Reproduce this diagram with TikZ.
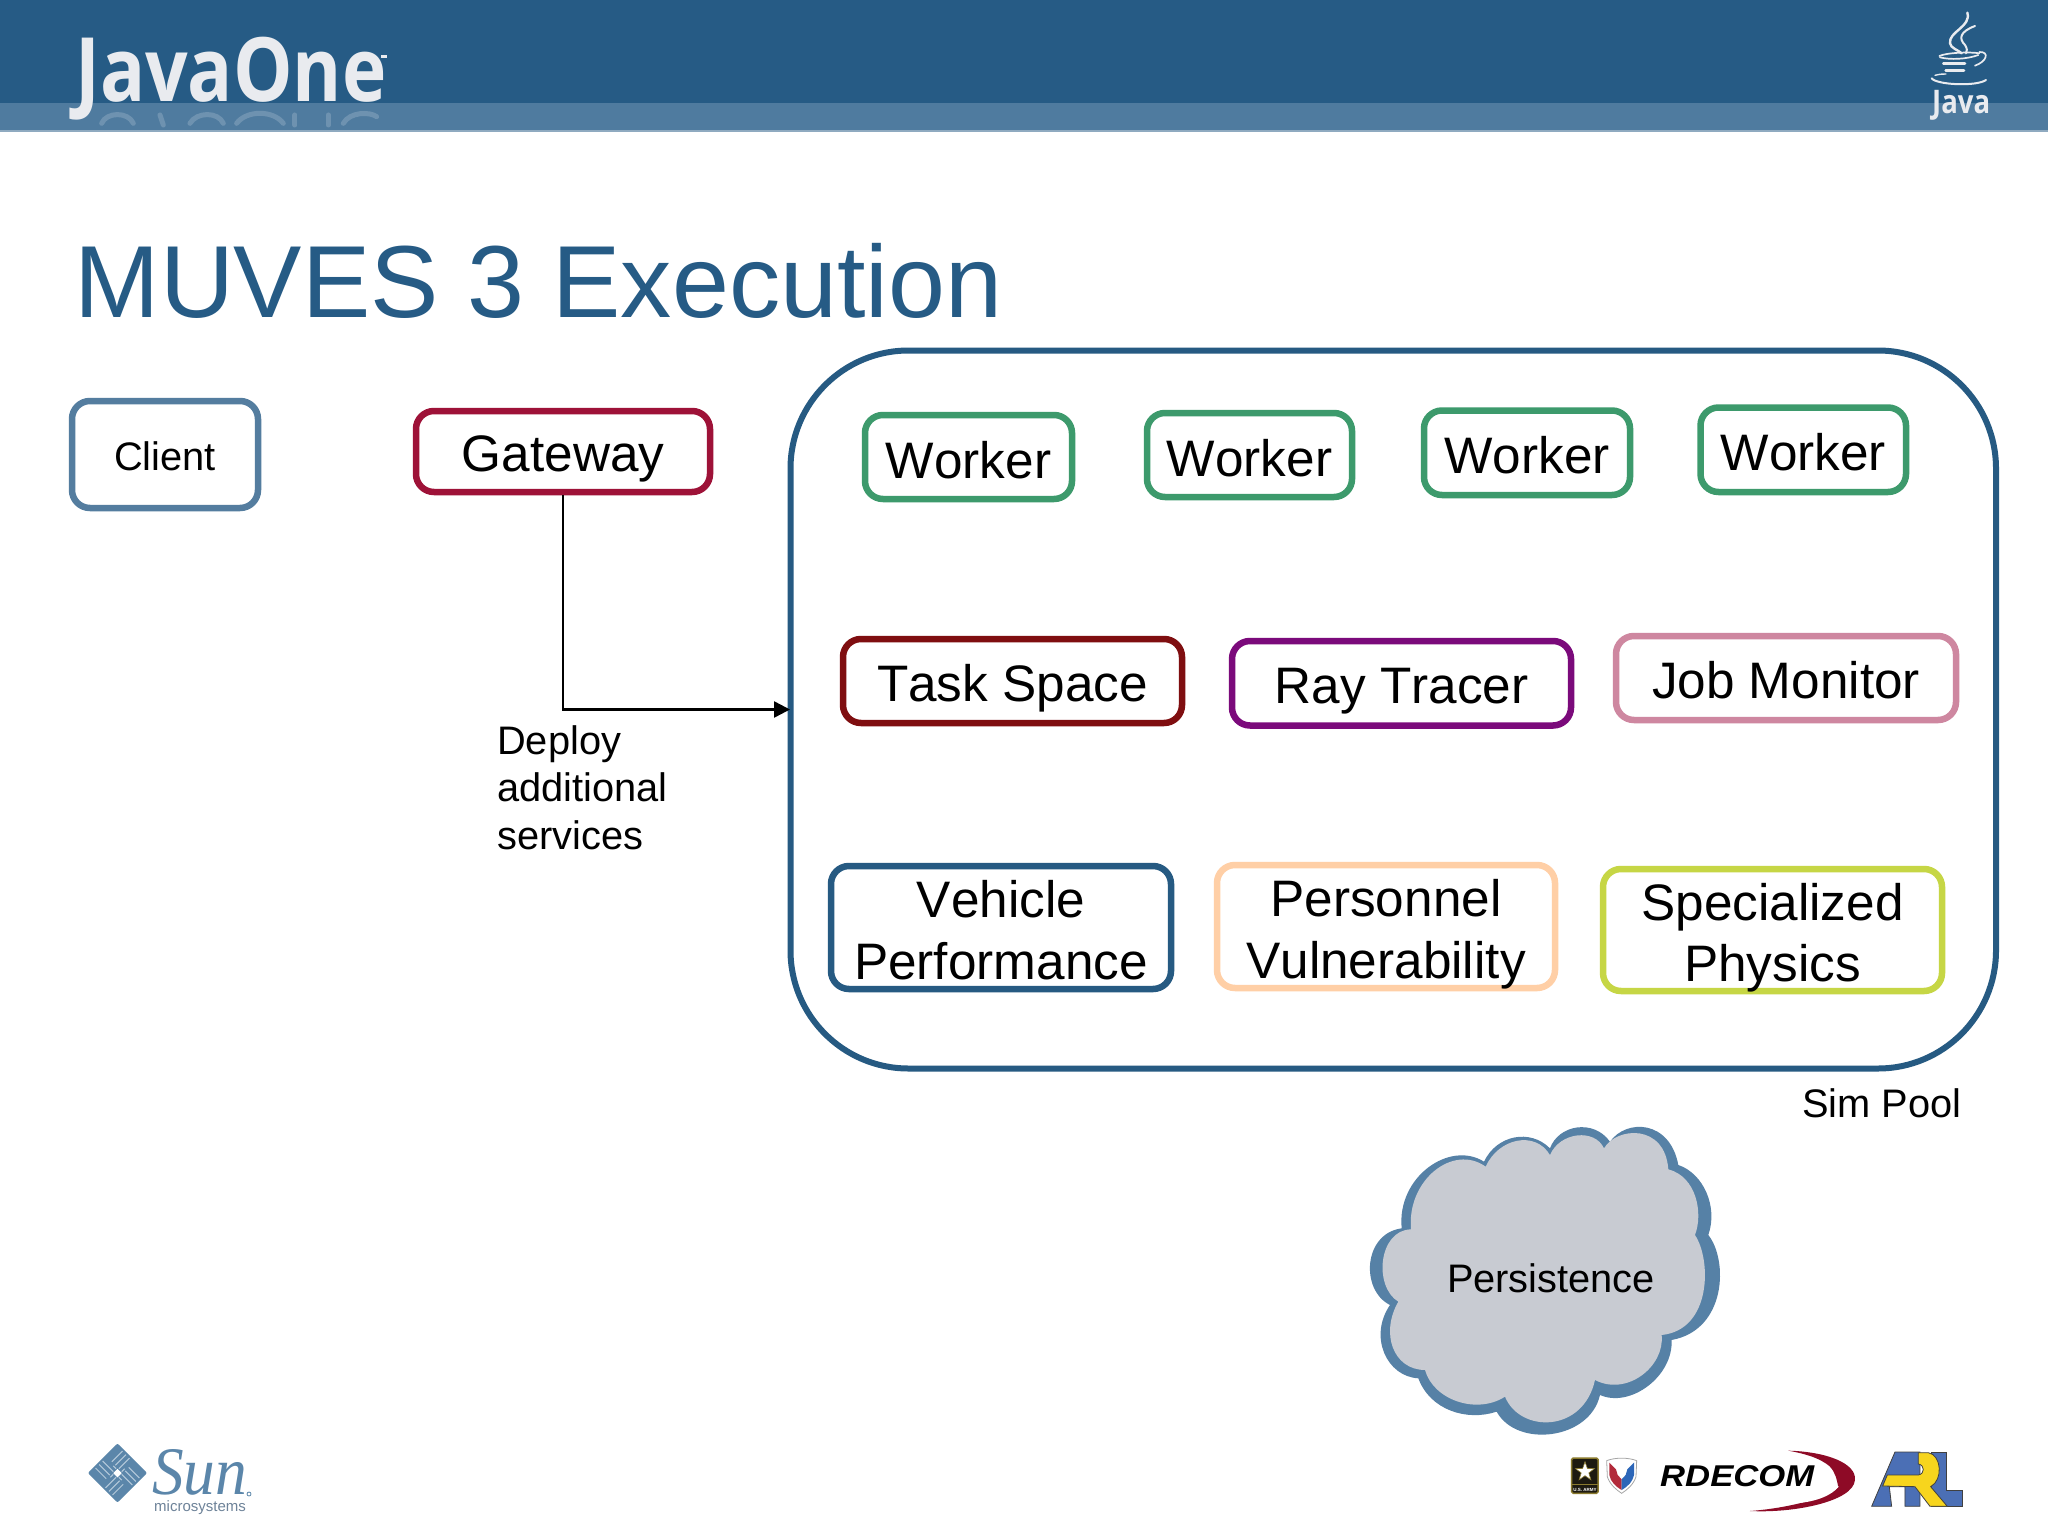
\documentclass[tikz,border=0pt]{standalone}
\usepackage{fontspec}
\usepackage{graphicx}
\setmainfont[Kerning=Off]{Liberation Sans}
\newfontfamily\jofont{Open Sans}
\newfontfamily\sunfont{Liberation Serif}
\usetikzlibrary{arrows.meta}
\definecolor{hdark}{HTML}{265B85}
\definecolor{hlight}{HTML}{4F7B9F}
\definecolor{hline}{HTML}{8FAAC0}
\definecolor{logow}{HTML}{E9EBEF}
\definecolor{cClient}{HTML}{547D9F}
\definecolor{cGate}{HTML}{9E1238}
\definecolor{cWork}{HTML}{3D9A6C}
\definecolor{cTask}{HTML}{7F0E10}
\definecolor{cRay}{HTML}{7B0A7B}
\definecolor{cJob}{HTML}{CE87A0}
\definecolor{cVeh}{HTML}{265A82}
\definecolor{cPers}{HTML}{FFCFA6}
\definecolor{cSpec}{HTML}{C6D645}
\definecolor{cloudout}{HTML}{5681A6}
\definecolor{cloudin}{HTML}{C8CBD2}
\definecolor{sunblue}{HTML}{5B86AA}
\definecolor{sunlight}{HTML}{B5CADB}
\definecolor{sungrey}{HTML}{6E8399}
\definecolor{swoosh}{HTML}{8E0A26}
\definecolor{armyg}{HTML}{8A7A2E}
\definecolor{armyk}{HTML}{1D1A10}
\definecolor{shred}{HTML}{B22A3A}
\definecolor{shblue}{HTML}{2C66B8}
\definecolor{arlblue}{HTML}{4B6FB5}
\definecolor{arlyel}{HTML}{F7D51D}
\newcommand{\lnx}[1]{\raisebox{-21pt}[0pt][0pt]{#1}}
\tikzset{
  box/.style={draw=#1,line width=6.5pt,rounded corners=18pt,fill=white,inner sep=0pt,align=center},
  one/.style={font=\fontsize{51.3}{61}\selectfont,text height=40pt,text depth=0pt},
  two/.style={font=\fontsize{51.3}{61.3}\selectfont},
  label/.style={font=\fontsize{39.8}{47.5}\selectfont,inner sep=0pt,align=left},
  zoomat/.style={shift={(#1)},x=0.3333pt,y=-0.3333pt},
  conn/.style={draw=black,line width=2.5pt,-{Triangle[length=16pt,width=16pt]},shorten >=-2.5pt},
}
\begin{document}
\begin{tikzpicture}[x=1pt,y=-1pt]
\useasboundingbox (0,0) rectangle (2048,1536);
\fill[white] (0,0) rectangle (2048,1536);
% header
\fill[hdark] (0,0) rectangle (2048,103);
\fill[hlight] (0,103) rectangle (2048,130);
\fill[hline] (0,130) rectangle (2048,132);
% JavaOne reflection
\begin{scope}[zoomat={0,0},white,opacity=.18,line width=5pt,line cap=round]
\draw (305,370) .. controls (320,335) and (385,335) .. (400,370);
\draw (480,345) -- (490,375);
\draw (570,370) .. controls (590,335) and (655,335) .. (670,370);
\draw (710,370) .. controls (740,330) and (820,330) .. (850,370);
\draw (885,345) -- (885,375);
\draw (985,345) -- (985,375);
\draw (1030,370) .. controls (1050,335) and (1110,335) .. (1130,350);
\end{scope}
\node[anchor=north west,inner sep=0pt,text=logow] (javaone) at (75,37)
  {\resizebox*{311pt}{83pt}{\jofont\fontseries{sb}\selectfont JavaOne}};
\fill[logow] (381,55.5) rectangle (387,58);
% Java logo
\begin{scope}[zoomat={1880,0},draw=logow,line cap=round]
\draw[line width=2.4pt] (262,38) .. controls (275,80) and (205,95) .. (210,130) .. controls (212,145) and (235,150) .. (245,160);
\draw[line width=2pt] (285,78) .. controls (240,95) and (235,115) .. (255,135) .. controls (262,145) and (262,155) .. (258,160);
\draw[line width=1.7pt] (178,168) .. controls (200,158) and (270,155) .. (298,160);
\draw[line width=1.7pt] (180,172) .. controls (210,180) and (260,178) .. (295,165);
\draw[line width=2.6pt] (190,190) -- (255,190);
\draw[line width=2.6pt] (197,212) -- (252,212);
\draw[line width=1.7pt] (298,156) .. controls (330,155) and (320,185) .. (285,197);
\draw[line width=2pt] (155,235) .. controls (170,255) and (290,260) .. (318,240);
\draw[line width=1.4pt] (165,226) .. controls (180,222) and (190,222) .. (198,222);
\end{scope}
\node[anchor=north west,inner sep=0pt,text=logow] (javaword) at (1932,90)
  {\resizebox*{58pt}{30pt}{\jofont\fontseries{sb}\selectfont Java}};
% title
\node[anchor=base west,inner sep=0pt,text=hdark,font=\fontsize{102.4}{110}\selectfont] (title) at (74.5,317) {MUVES 3 Execution};
% sim pool
\node[draw=cVeh,line width=6pt,rounded corners=118pt,minimum width=1205.5pt,minimum height=718pt,inner sep=0pt] (sim) at (1393.25,709.5) {};
% boxes
\node[box=cClient,minimum width=186pt,minimum height=107pt,font=\fontsize{39.8}{48}\selectfont,text height=31pt,text depth=0pt] (client) at (165,454.5) {Client};
\node[box=cGate,one,minimum width=294pt,minimum height=81pt] (gateway) at (563,451.5) {Gateway};
\node[box=cWork,one,minimum width=207pt,minimum height=84pt,text height=42pt] (w1) at (968.5,457) {Worker};
\node[box=cWork,one,minimum width=205pt,minimum height=84pt,text height=42pt] (w2) at (1249.5,455) {Worker};
\node[box=cWork,one,minimum width=206pt,minimum height=84.5pt,text height=42pt] (w3) at (1527,452.75) {Worker};
\node[box=cWork,one,minimum width=205.5pt,minimum height=84.5pt,text height=42pt] (w4) at (1803.25,449.75) {Worker};
\node[box=cTask,one,minimum width=339pt,minimum height=84pt] (task) at (1012.5,681) {Task Space};
\node[box=cRay,one,minimum width=339pt,minimum height=84.5pt] (ray) at (1401.5,683.25) {Ray Tracer};
\node[box=cJob,one,minimum width=340pt,minimum height=84pt] (job) at (1786,678) {Job Monitor};
\node[box=cVeh,two,minimum width=340pt,minimum height=123pt] (veh) at (1001,927.5) {\lnx{Vehicle}\\\lnx{Performance}};
\node[box=cPers,two,minimum width=338pt,minimum height=123pt] (pers) at (1386,926.5) {\lnx{Personnel}\\\lnx{Vulnerability}};
\node[box=cSpec,two,minimum width=339pt,minimum height=122pt] (spec) at (1772.5,930) {\lnx{Specialized}\\\lnx{Physics}};
% connector
\draw[conn] (gateway.south) |- (sim.west);
% labels
\node[label,anchor=north west] (deploy) at (497,725) {Deploy\\additional\\services};
\node[label,anchor=base west] (simlabel) at (1802,1117) {Sim Pool};
% cloud
\begin{scope}[zoomat={1350,1100}]
\fill[cloudout] (402,185) .. controls (440,105) and (540,85) .. (600,145)
 .. controls (625,75) and (730,55) .. (780,125)
 .. controls (830,55) and (960,60) .. (985,195)
 .. controls (1060,220) and (1105,320) .. (1075,405)
 .. controls (1135,480) and (1130,690) .. (965,720)
 .. controls (970,830) and (840,925) .. (750,885)
 .. controls (720,1020) and (500,1045) .. (440,935)
 .. controls (350,965) and (240,930) .. (205,835)
 .. controls (110,830) and (55,710) .. (120,615)
 .. controls (30,570) and (40,400) .. (155,385)
 .. controls (140,230) and (300,120) .. (402,185) -- cycle;
\fill[cloudin] (407,200) .. controls (445,115) and (555,90) .. (600,165)
 .. controls (630,95) and (735,85) .. (762,145)
 .. controls (800,80) and (945,70) .. (955,208)
 .. controls (1040,230) and (1060,340) .. (1035,405)
 .. controls (1085,480) and (1085,690) .. (935,705)
 .. controls (945,800) and (830,890) .. (735,840)
 .. controls (700,1000) and (510,1000) .. (465,890)
 .. controls (380,945) and (250,900) .. (225,810)
 .. controls (130,810) and (90,700) .. (145,605)
 .. controls (70,560) and (85,390) .. (183,388)
 .. controls (170,240) and (310,130) .. (407,200) -- cycle;
\end{scope}
\node[inner sep=0pt,font=\fontsize{39.8}{48}\selectfont] (persist) at (1551,1278) {Persistence};
% Sun logo
\begin{scope}[shift={(117.5,1473)},rotate=45]
\fill[sunblue,rounded corners=2pt] (-21,-21) rectangle (21,21);
\fill[white] (-3,-3) rectangle (3,3);
\foreach \a in {0,90,180,270}{
 \begin{scope}[rotate=\a]
 \draw[sunlight,line width=1pt] (4,-2) -- (19,-2) (4,-7) -- (19,-7) (4,-12) -- (19,-12);
 \draw[sunlight,line width=1pt] (2,-4) -- (2,-8);
 \end{scope}}
\end{scope}
\node[anchor=south west,inner sep=0pt,text=sunblue] (sunword) at (152,1495)
  {\resizebox{95pt}{45pt}{\sunfont\itshape Sun}};
\draw[sunblue,line width=.8pt] (249,1494) circle (2pt);
\node[anchor=base west,inner sep=0pt,text=sungrey,font=\fontsize{15}{18}\selectfont] (microsys) at (154,1511.5) {microsystems};
% Army
\begin{scope}[zoomat={1540,1430}]
\filldraw[fill=armyk,draw=armyg,line width=1.5pt,rounded corners=1.5pt] (95,84) rectangle (174,190);
\draw[armyg,line width=1pt] (95,163) -- (174,163);
\fill[white,draw=armyg,line width=.6pt] (135,95) -- (142,115.3) -- (163.5,115.7) -- (146.4,128.7) -- (152.6,149.3) -- (135,137) -- (117.4,149.3) -- (123.6,128.7) -- (106.5,115.7) -- (128,115.3) -- cycle;
% shield
\filldraw[fill=white,draw=black!35,line width=.8pt] (200,92) .. controls (225,82) and (265,82) .. (290,92) -- (288,140) .. controls (280,165) and (260,180) .. (245,190) .. controls (230,180) and (210,165) .. (202,140) -- cycle;
\fill[shred] (208,98) -- (228,118) -- (233,135) -- (245,148) -- (245,180) .. controls (225,168) and (212,155) .. (208,135) -- cycle;
\fill[shblue] (282,98) -- (262,118) -- (257,135) -- (245,148) -- (245,180) .. controls (265,168) and (278,155) .. (282,135) -- cycle;
% swoosh
\fill[swoosh] (745,62) .. controls (860,65) and (950,100) .. (945,150) .. controls (940,215) and (760,250) .. (630,243) .. controls (740,235) and (860,205) .. (895,172) .. controls (890,145) and (885,125) .. (868,108) .. controls (840,85) and (800,72) .. (745,62) -- cycle;
\fill[white] (740,220) .. controls (800,210) and (860,195) .. (897,168) .. controls (870,205) and (800,222) .. (740,220) -- cycle;
% ARL
\begin{scope}[draw=black!75,line width=.8pt]
\filldraw[fill=arlblue] (995,229) -- (1065,66) -- (1140,66) -- (1140,229) -- (1095,229) -- (1095,170) -- (1048,170) -- (1055,229) -- cycle;
\filldraw[fill=arlblue] (1175,66) -- (1220,66) -- (1220,182) -- (1268,182) -- (1268,229) -- (1175,229) -- cycle;
\filldraw[fill=arlyel] (1135,68) -- (1165,68) .. controls (1205,75) and (1210,150) .. (1172,170) -- (1222,229) -- (1170,229) -- (1125,170) -- (1028,168) -- (1042,135) -- (1135,135) .. controls (1155,132) and (1155,105) .. (1135,102) -- cycle;
\end{scope}
\end{scope}
\node[inner sep=0pt,text=white,font=\bfseries\fontsize{4.5}{5}\selectfont] (army) at (1585,1489.5) {U.S. ARMY};
\node[anchor=south west,inner sep=0pt] (rdecom) at (1660,1487)
  {\resizebox{154pt}{21pt}{\bfseries\itshape RDECOM}};
\end{tikzpicture}
\end{document}
